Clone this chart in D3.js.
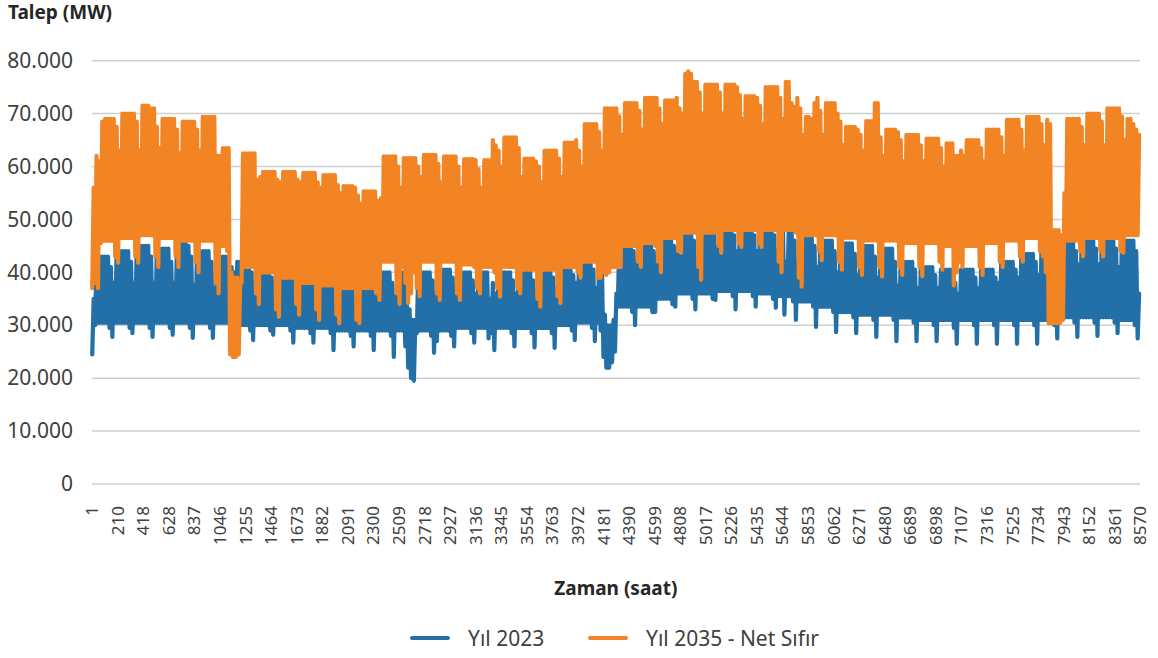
<!DOCTYPE html>
<html>
<head>
<meta charset="utf-8">
<script src="https://cdn.jsdelivr.net/npm/d3@7"></script>
<style>
body { margin: 0; background: #fff; }
text { font-family: 'Noto Sans', sans-serif; }
</style>
</head>
<body>
<div id="chart-area"></div>
<script>
// Daily min / max demand, in thousand MW.
// One row per week, 365 days (hours 1..8760).

var blueMax = [
	35,43,43,43,43,43,41,  38,44,44,44,44,44,42,  38,45,45,45,45,45,43,  38,44.5,44.5,44.5,44.5,44.5,42,
	38,45.5,45.5,45.5,45.5,45,43,  37.5,44,44,44,44,44,42,  37,43,43,43,43,43,41,  40,42,42,42,42,42,40,
	37,41,41,41,41,41,39,  36.5,40,40,40,40,40,38.5,  36,40,40,40,40,40,38.5,  36,39.5,39.5,39.5,39.5,39.5,38,
	35.5,39,39,39,39,39,37.5,  35.5,39,39,39,39,39,37.5,  35.5,39,39,40,40,40,38,  35.5,40,40,40,36,33,31,
	31,40,40,40,40,40,38.5,  36,36,40.5,40.5,40.5,40.5,39,  36,40,40,40,40,40,38.5,  36,40,40,40,40,35,38,
	36,40,40,40,40,40,38.5,  36,40,40,40,40,40,38.5,  36.5,40.5,40.5,40.5,40.5,40.5,39,  37,41,41,41,41,41,39.5,
	38,42,42,42,42,42,40.5,  37,42,40,32,30,30,31,  36,46,46,46,46,46,44,  42,46,46,46,46,46,44,
	43,47,47,47,47,47,45,  44,48,48,48,48,48,46,  44,49,49,49,49,49,47,  45,49,49,49,49,49,47,
	44,49,49,49,49,49,47,  44,49,49,49,49,49,47,  44,48,48,42,48,48,46,  42,47,47,47,47,47,45,
	41,46,46,46,46,46,44,  40,45.5,45.5,45.5,45.5,45.5,43.5,  39.5,45,45,45,45,45,43,  39,44.5,44.5,44.5,44.5,44.5,42,
	37.5,42,42,42,42,42,40.5,  37,41,41,41,41,41,39.5,  37,40.5,40.5,40.5,40.5,40.5,38,  36,40.5,40.5,40.5,40.5,40.5,39,
	37,40.5,40.5,40.5,40.5,40.5,39,  38,42,42,42,42,42,40.5,  39,43.5,43.5,43.5,43.5,43.5,42,  39.5,44,44,44,44,44,42,
	41,46,46,46,46,46,44,  41.5,46.5,46.5,46.5,46.5,46.5,44.5,  41.5,46.5,46.5,46.5,46.5,46.5,44.5,  41,46,46,46,46,46,44,
	36
];

var blueMin = [
	24.5,30,30.5,30.5,30.5,30.5,29.5,  27.8,30.5,30.5,30.5,30.5,30.5,29.5,  28.5,30.5,30.5,30.5,30.5,30.5,29.5,  27.8,30.5,30.5,30.5,30.5,30.5,29.5,
	28.2,30.5,30.5,30.5,30.5,30.5,29.5,  27.6,30.5,30.5,30.5,30.5,30.5,29.5,  27.6,30.5,30.5,30.5,30.5,30.5,29.5,  28,30,30,30,30,30,29,
	27.2,30,30,30,30,30,29,  28.2,30,30,30,30,30,29,  26.7,29.5,29.5,29.5,29.5,29.5,28.5,  26.7,29.5,29.5,29.5,29.5,29.5,28.5,
	25.3,29,29,29,29,29,28,  26,29,29,29,29,29,28,  25.3,29,29,29,29,29,28,  24,29,29,29,26,22,20,
	19.5,28.5,29,29,29,29,28,  24.8,27,29,29,29,29,28,  26,29.5,29.5,29.5,29.5,29.5,28.5,  26.7,29.5,29.5,29.5,29.5,27.5,28.5,
	25.3,29.5,29.5,29.5,29.5,29.5,28.5,  26,29.5,29.5,29.5,29.5,29.5,28.5,  25.8,29.5,29.5,29.5,29.5,29.5,28.5,  25.7,30,30,30,30,30,29,
	27.2,30.5,30.5,30.5,30.5,30.5,29.5,  27,30.5,29,24,22,22,23,  25,33.5,33.5,33.5,33.5,33.5,32.5,  30,33.5,33.5,33.5,33.5,33.5,32.5,
	32.5,35,35,35,35,35,34,  33.5,36,36,36,36,36,35,  33,36,36,36,36,36,35,  34.8,36.5,36.5,36.5,36.5,36.5,35.5,
	33,36.5,36.5,36.5,36.5,36.5,35.5,  33.5,36,36,36,36,36,35,  33.3,35.5,35.5,32,35.5,35.5,34.5,  31,34.5,34.5,34.5,34.5,34.5,33.5,
	29.7,33.5,33.5,33.5,33.5,33.5,32.5,  28.7,32.5,32.5,32.5,32.5,32.5,31.5,  28.5,32,32,32,32,32,31,  27.8,32,32,32,32,32,31,
	27,31.5,31.5,31.5,31.5,31.5,30.5,  27,31,31,31,31,31,30,  27,31,31,31,31,31,29.5,  26.5,31,31,31,31,31,30,
	26.5,31,31,31,31,31,30,  26.5,31,31,31,31,31,30,  26.5,31,31,31,31,31,30,  26.5,31,31,31,31,31,30,
	27.5,31.5,31.5,31.5,31.5,31.5,30.5,  27.8,31.5,31.5,31.5,31.5,31.5,30.5,  28,31.5,31.5,31.5,31.5,31.5,30.5,  28.5,31,31,31,31,31,30,
	27.5
];

var orangeMax = [
	56,62,61,68.5,69,69,69,  69,67.5,63,70,70,70,70,  70,68.5,63,71.5,71.5,71.5,71,  71,67.5,63.5,69,69,69,69,
	69,67,62.5,68.5,68.5,68.5,68.5,  68.5,67,63,69.4,69.4,69.4,69.4,  69.4,62,62,63.5,63.5,63.5,40,  39,39,38,62.5,62.5,62.5,62.5,
	62.5,57.5,58,59,59,59,59,  59,57.5,57,59,59,59,59,  59,57.5,57,58.8,58.8,58.8,58.8,  58.8,57,56,58.4,58.4,58.4,58.4,
	58.4,56.5,55,56.3,56.3,56.3,56.3,  56,54.5,53,55.3,55.3,55.3,55.3,  55.3,53.5,54,61.9,61.9,61.9,61.9,  61.9,60,56,61.6,61.6,61.6,61.6,
	61.6,60,58,62.2,62.2,62.2,62.2,  62.2,60.5,57,61.9,61.9,61.9,61.9,  61.9,60,56,61.4,61.4,61.4,61.4,  61.2,59.5,56,61.2,61.2,61.2,65,
	64,63,60,65.5,65.5,65.5,65.5,  65.5,63.5,58,61.5,61.5,61.5,61.5,  61,60,57,63,63,63,63,  63,61.5,58,64.5,64.5,64.5,64.5,
	65,63,60,68,68,68,68,  68,66.5,63,71,71,71,71,  71,69.5,66,72,72,72,72,  72,70.5,67,73,73,73,73,
	73,71,68,72.5,72.5,72.5,72.5,  73,71,70,77.5,78,77.5,76,  76,74,70,75.5,75.5,75.5,75.5,  75.5,74,70,75.5,75.5,75.5,75.5,
	75,73.5,69,73.3,73.3,73.3,73.3,  73,71.5,68,75,75,75,75,  75,73,69,76,76,72,71.3,  73,71,66,69.4,69.4,69,72,
	73,70.5,66,72,72,72,72,  70,68.5,64,67.5,67.5,67.5,67.5,  67,66,63,68.6,68.6,68.6,72,  72,65.5,62,67,67,67,67,
	66.5,65,61,66,66,66,66,  66,64,61,65.3,65.3,65.3,65.3,  65.3,63.5,60,64.4,64.4,64.4,62,  62,63,62,65,65,65,65,
	65,63.5,61,67,67,67,67,  67,65.5,62,68.8,68.8,68.8,68.8,  68.8,67,63,69.4,69.4,69.4,69.4,  69.4,68,64,68.8,68,48,48,
	48,47,55,69,69,69,69,  69,67.5,64,70,70,70,70,  70,68.5,64,71,71,71,71,  71,69.5,65,69,69,68,67,
	66
];

var orangeMin = [
	37,38,37,45.5,46,46,46,  46,43,41.8,46.5,46.5,46.5,46.5,  46.5,43,41.8,47,47,47,47,  47,43,41,46.5,46.5,46.5,46.5,
	46.5,43,41,46,46,46,46,  46,42,40,46,46,46,46,  46,38,36,45,45,44,24.5,  24,24,24.5,38,41,41,41,
	41,36,34,40,40,40,40,  40,33,31.6,39,39,39,39,  39,34,32,38,38,38,38,  38,33,31,37.5,37.5,37.5,37.5,
	37.5,32,30.4,37,37,37,37,  37,31,30.4,37,37,37,37,  37,36,34.8,42,42,42,42,  42,36,34,41,38,34.2,36,
	40,37,35.5,42,42,42,42,  42,36,34.8,42,42,42,42,  42,36,34.8,41.5,41.5,41.5,41.5,  41,37,36,41,41,41,41,
	40,37,35.4,41,41,41,41,  41,37,36,40.5,40.5,40.5,40.5,  40.5,35,33.5,40.5,40.5,40.5,40.5,  40.5,35.5,34.2,41,41,41,41,
	41,40,39,42,42,42,42,  42,39,39,40,39.5,40,41,  41,41,41,45,45,45,45,  45,42,41,45.5,45.5,45.5,45.5,
	45,42,40,46.5,46.5,46.5,46.5,  46.5,44,43.7,47.5,47.5,47.5,47.5,  47.5,41,38.6,47.5,47.5,47.5,47.5,  47.5,45,43.7,48,48,48,48,
	48,45.5,44.8,48,48,48,48,  48,45.5,44.8,48,48,48,48,  48,42,40,48,48,48,48,  47.5,39,37.3,47,47,47,47,
	47,44,42.3,47,47,47,47,  47,42,40.5,46.5,46.5,46.5,46.5,  46.5,41,39.5,46,46,46,46,  46,41,39.2,46,46,46,46,
	46,41,39.5,45.5,45.5,45.5,45.5,  45.5,41,39.3,45.5,45.5,45.5,45.5,  45.5,42,40.5,45,45,45,37.5,  40,42,41,45,45,45,45,
	45,41,39.5,45.5,45.5,45.5,45.5,  45.5,42,41,46,46,46,46,  46,43,42,46.5,46.5,46.5,46.5,  46.5,44,43,40,30.4,30.4,30.4,
	30.4,30.4,31,46,46,46,46,  46,44,43,46.5,46.5,46.5,46.5,  46.5,44,43,46.5,46.5,46.5,46.5,  46.5,44,43.7,47,47,47,47,
	47
];

var yTicks = [0, 10000, 20000, 30000, 40000, 50000, 60000, 70000, 80000];

var tickLabels = ['1','210','418','628','837','1046','1255','1464','1673','1882','2091','2300','2509','2718',
	'2927','3136','3345','3554','3763','3972','4181','4390','4599','4808','5017','5226','5435','5644',
	'5853','6062','6271','6480','6689','6898','7107','7316','7525','7734','7943','8152','8361','8570'];

var seriesNames = ['Yıl 2023', 'Yıl 2035 - Net Sıfır'];
var colors = ['#2270a7', '#f38424'];

var hoursTotal = 8760;

var width = 1158;
var height = 658;

var svg = d3.select('#chart-area')
	.append('svg')
	.attr('width', width)
	.attr('height', height);

var plot = { left: 91.7, right: 1140, top: 60.7, bottom: 484 };

var x = d3.scaleLinear()
	.domain([0.5, hoursTotal + 0.5])
	.range([plot.left, plot.right]);

var y = d3.scaleLinear()
	.domain([0, 80000])
	.range([plot.bottom, plot.top]);

var trFormat = d3.formatLocale({ decimal: ',', thousands: '.', grouping: [3], currency: ['', ''] }).format(',');

// gridlines
svg.append('g')
	.selectAll('line')
	.data(yTicks)
	.enter()
		.append('line')
		.attr('x1', plot.left)
		.attr('x2', plot.right)
		.attr('y1', d => y(d))
		.attr('y2', d => y(d))
		.attr('stroke', '#cfcfcf')
		.attr('stroke-width', 1.5);

// y axis labels
var yAxis = d3.axisLeft(y)
	.tickValues(yTicks)
	.tickSize(0)
	.tickPadding(18.7)
	.tickFormat(trFormat);

var yg = svg.append('g')
	.attr('transform', 'translate(' + plot.left + ',0)')
	.call(yAxis);
yg.select('.domain').remove();
yg.selectAll('text')
	.attr('font-size', 21)
	.attr('fill', '#404040')
	.style('font-family', "'Noto Sans', sans-serif");

// x axis labels (category labels spread evenly over the hours)
var xLabels = d3.scalePoint()
	.domain(tickLabels)
	.range([x(1), x(hoursTotal)]);

var xg = svg.append('g')
	.attr('transform', 'translate(0,' + plot.bottom + ')')
	.call(d3.axisBottom(xLabels).tickSize(0));
xg.select('.domain').remove();
xg.selectAll('text')
	.attr('transform', 'rotate(-90)')
	.attr('x', -22)
	.attr('y', 0)
	.attr('dy', '0.35em')
	.attr('text-anchor', 'end')
	.attr('font-size', 17)
	.attr('fill', '#404040')
	.style('font-family', "'Noto Sans', sans-serif");

// series: two points a day (night low, day high)
function dailyPoints(mins, maxs) {
	var pts = [];
	mins.forEach(function(v, i) {
		pts.push([i * 24 + 5, v * 1000]);
		pts.push([i * 24 + 17, maxs[i] * 1000]);
	});
	return pts;
}

var line = d3.line()
	.x(d => x(d[0]))
	.y(d => y(d[1]));

var series = [dailyPoints(blueMin, blueMax), dailyPoints(orangeMin, orangeMax)];

svg.append('g')
	.selectAll('path')
	.data(series)
	.enter()
		.append('path')
		.attr('d', line)
		.attr('fill', 'none')
		.attr('stroke', (d, i) => colors[i])
		.attr('stroke-width', 4.2)
		.attr('stroke-linejoin', 'round')
		.attr('stroke-linecap', 'round');

// titles
svg.append('text')
	.attr('x', 8)
	.attr('y', 18.5)
	.attr('font-size', 19)
	.attr('font-weight', 'bold')
	.attr('fill', '#262626')
	.text('Talep (MW)');

svg.append('text')
	.attr('x', (plot.left + plot.right) / 2)
	.attr('y', 595)
	.attr('text-anchor', 'middle')
	.attr('font-size', 19)
	.attr('font-weight', 'bold')
	.attr('fill', '#262626')
	.text('Zaman (saat)');

// legend
var legendX = [412, 590];
var legend = svg.append('g')
	.selectAll('g')
	.data(seriesNames)
	.enter()
		.append('g')
		.attr('transform', (d, i) => 'translate(' + legendX[i] + ',638)');

legend.append('line')
	.attr('x1', 0)
	.attr('x2', 36)
	.attr('stroke', (d, i) => colors[i])
	.attr('stroke-width', 4)
	.attr('stroke-linecap', 'round');

legend.append('text')
	.attr('x', 56)
	.attr('y', 8)
	.attr('font-size', 21)
	.attr('fill', '#404040')
	.text(d => d);
</script>
</body>
</html>
